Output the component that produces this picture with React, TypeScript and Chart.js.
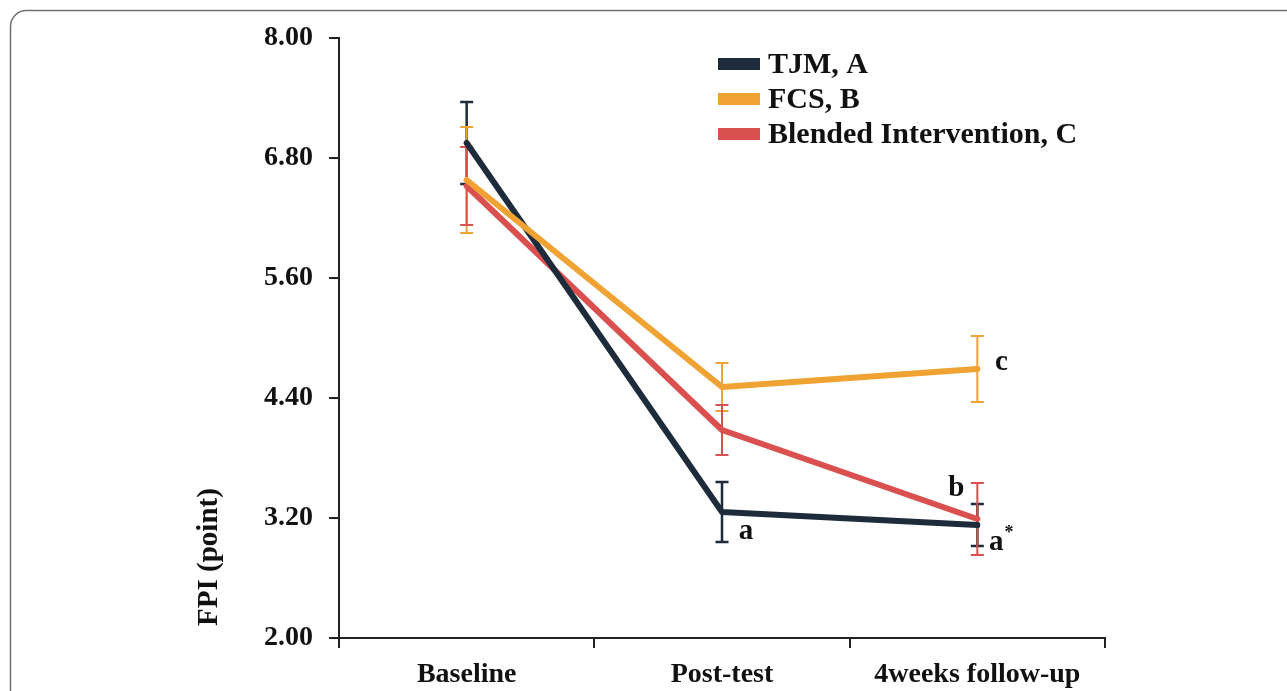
import React, { useEffect, useRef } from "react";
import { Chart, registerables } from "chart.js";
Chart.register(...registerables);

const categories = ["Baseline", "Post-test", "4weeks follow-up"];
const seriesNames = ["TJM, A", "FCS, B", "Blended Intervention, C"];
const seriesColors = ["#1d2b3b", "#f0a232", "#d9504f"];
const tjmMean = [6.95, 3.26, 3.13];
const tjmErr = [0.41, 0.3, 0.21];
const fcsMean = [6.58, 4.51, 4.69];
const fcsErr = [0.53, 0.24, 0.33];
const blendedMean = [6.52, 4.08, 3.19];
const blendedErr = [0.39, 0.25, 0.36];
const yTicks = [2.0, 3.2, 4.4, 5.6, 6.8, 8.0];
const yTitle = "FPI (point)";
// significance letters: [series index, category index, text, superscript]
const letterSeries = [0, 1, 2, 0];
const letterCategory = [1, 2, 2, 2];
const letterText = ["a", "c", "b", "a"];
const letterSup = ["", "", "", "*"];

const FONT = "'Liberation Serif', 'Times New Roman', serif";

export default function App() {
  const ref = useRef<HTMLCanvasElement>(null);
  useEffect(() => {
    document.body.style.margin = "0";
    const errs = [tjmErr, fcsErr, blendedErr];
    const letterOffsets = [
      [24, 20],
      [24, -6],
      [-21, -30],
      [19, 18],
    ];
    const decor = {
      id: "decor",
      beforeDraw(chart: any) {
        const ctx = chart.ctx;
        ctx.save();
        ctx.fillStyle = "#fff";
        ctx.fillRect(0, 0, chart.width, chart.height);
        ctx.strokeStyle = "#6f6f6f";
        ctx.lineWidth = 1.5;
        ctx.beginPath();
        if ((ctx as any).roundRect) {
          (ctx as any).roundRect(10.5, 10.5, 1320, 720, 16);
        } else {
          ctx.rect(10.5, 10.5, 1320, 720);
        }
        ctx.stroke();
        ctx.restore();
      },
      beforeDatasetsDraw(chart: any) {
        const ctx = chart.ctx;
        const ys = chart.scales.y;
        ctx.save();
        chart.data.datasets.forEach((ds: any, di: number) => {
          const meta = chart.getDatasetMeta(di);
          ctx.strokeStyle = seriesColors[di];
          ctx.lineWidth = di === 0 ? 2.5 : 2;
          meta.data.forEach((pt: any, i: number) => {
            const v = ds.data[i];
            const e = errs[di][i];
            const x = pt.x;
            const yt = ys.getPixelForValue(v + e);
            const yb = ys.getPixelForValue(v - e);
            const cw = 6.5;
            ctx.beginPath();
            ctx.moveTo(x, yt);
            ctx.lineTo(x, yb);
            ctx.moveTo(x - cw, yt);
            ctx.lineTo(x + cw, yt);
            ctx.moveTo(x - cw, yb);
            ctx.lineTo(x + cw, yb);
            ctx.stroke();
          });
        });
        ctx.restore();
      },
      afterDraw(chart: any) {
        const ctx = chart.ctx;
        ctx.save();
        // legend
        ctx.font = `bold 30px ${FONT}`;
        ctx.textBaseline = "middle";
        ctx.textAlign = "left";
        seriesNames.forEach((n, i) => {
          const y = 64 + i * 35;
          ctx.fillStyle = seriesColors[i];
          ctx.fillRect(718, y - 6, 42, 12);
          ctx.fillStyle = "#111";
          ctx.fillText(n, 768, y + 1);
        });
        // y title
        ctx.save();
        ctx.translate(210, 557);
        ctx.rotate(-Math.PI / 2);
        ctx.textAlign = "center";
        ctx.font = `bold 29px ${FONT}`;
        ctx.fillText(yTitle, 0, 0);
        ctx.restore();
        // letters
        letterText.forEach((t, k) => {
          const meta = chart.getDatasetMeta(letterSeries[k]);
          const pt = meta.data[letterCategory[k]];
          const x = pt.x + letterOffsets[k][0];
          const y = pt.y + letterOffsets[k][1];
          ctx.font = `bold 29px ${FONT}`;
          ctx.textAlign = "center";
          ctx.fillStyle = "#111";
          ctx.fillText(t, x, y);
          if (letterSup[k]) {
            const w = ctx.measureText(t).width;
            ctx.font = `bold 18px ${FONT}`;
            ctx.textAlign = "left";
            ctx.fillText(letterSup[k], x + w / 2 + 1, y - 10);
          }
        });
        ctx.restore();
      },
    };
    const means = [tjmMean, fcsMean, blendedMean];
    const orders = [1, 0, 2];
    const chart = new Chart(ref.current!, {
      type: "line",
      data: {
        labels: categories,
        datasets: seriesNames.map((n, i) => ({
          label: n,
          data: means[i],
          borderColor: seriesColors[i],
          backgroundColor: seriesColors[i],
          borderWidth: 6,
          pointRadius: 0,
          borderCapStyle: "round",
          borderJoinStyle: "round",
          tension: 0,
          order: orders[i],
        })),
      },
      options: {
        animation: false,
        responsive: false,
        layout: { padding: { top: 38, right: 182, left: 0, bottom: 0 } },
        plugins: { legend: { display: false }, tooltip: { enabled: false } },
        scales: {
          x: {
            type: "category",
            offset: true,
            grid: {
              offset: true,
              drawOnChartArea: false,
              drawTicks: true,
              tickLength: 10,
              color: "#222",
              lineWidth: 2,
            },
            border: { display: true, color: "#222", width: 2 },
            ticks: {
              color: "#111",
              padding: 10,
              font: { family: FONT, size: 28, weight: "bold" },
              maxRotation: 0,
            },
            afterFit(scale: any) {
              scale.height = 53;
            },
          },
          y: {
            min: 2,
            max: 8,
            afterBuildTicks(scale: any) {
              scale.ticks = yTicks.map((v) => ({ value: v }));
            },
            grid: {
              drawOnChartArea: false,
              drawTicks: true,
              tickLength: 10,
              color: "#222",
              lineWidth: 2,
            },
            border: { display: true, color: "#222", width: 2 },
            ticks: {
              color: "#111",
              padding: 16,
              font: { family: FONT, size: 28, weight: "bold" },
              callback: (v: any) => Number(v).toFixed(2),
            },
            afterFit(scale: any) {
              scale.width = 339;
            },
          },
        },
      },
      plugins: [decor],
    } as any);
    return () => chart.destroy();
  }, []);
  return (
    <canvas
      ref={ref}
      width={1287}
      height={691}
      style={{ display: "block", width: 1287, height: 691 }}
    />
  );
}
